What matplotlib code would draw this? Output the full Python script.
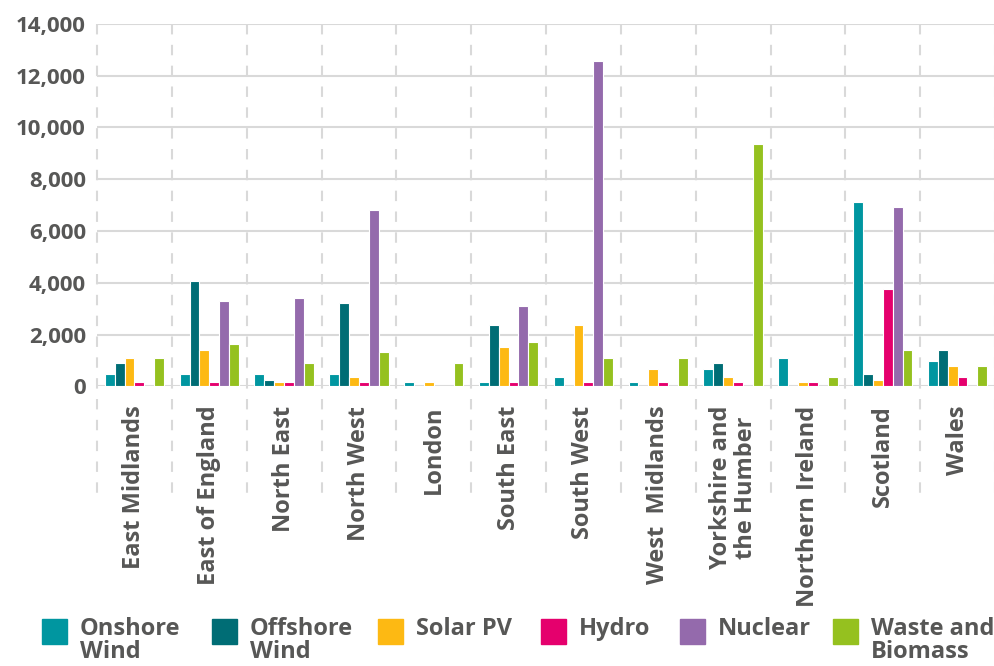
import numpy as np
import matplotlib.pyplot as plt
from matplotlib.patches import Rectangle
from matplotlib.ticker import FuncFormatter

plt.rcParams['font.family'] = ['Open Sans', 'DejaVu Sans']

regions = ["East Midlands", "East of England", "North East", "North West", "London",
           "South East", "South West", "West  Midlands", "Yorkshire and\nthe Humber",
           "Northern Ireland", "Scotland", "Wales"]

onshore = [460, 460, 460, 460, 150, 150, 350, 150, 670, 1090, 7120, 990]
offshore = [885, 4050, 245, 3200, 0, 2360, 0, 0, 885, 0, 460, 1410]
solar = [1090, 1410, 150, 350, 150, 1510, 2360, 670, 350, 150, 245, 770]
hydro = [150, 150, 150, 150, 0, 150, 150, 150, 150, 150, 3740, 350]
nuclear = [0, 3310, 3420, 6800, 0, 3100, 12580, 0, 0, 0, 6910, 0]
waste = [1090, 1615, 885, 1310, 885, 1730, 1090, 1090, 9380, 350, 1410, 770]

series = ["Onshore\nWind", "Offshore\nWind", "Solar PV", "Hydro", "Nuclear", "Waste and\nBiomass"]
colors = ["#0096A0", "#006D75", "#FDB913", "#E5006D", "#946AAC", "#95C11F"]
values = [onshore, offshore, solar, hydro, nuclear, waste]

text_col = "#575756"
grid_col = "#d9d9d9"

fig = plt.figure(figsize=(9.95, 6.66), dpi=100)
ax = fig.add_axes([0.0975, 0.42, 0.9025, 0.544])

x = np.arange(len(regions))
w = 0.132
for i, (vals, c) in enumerate(zip(values, colors)):
    ax.bar(x + (i - 2.5) * w, vals, width=w, color=c, edgecolor="white", linewidth=0.8, zorder=3)

ax.set_xlim(-0.5, len(regions) - 0.5)
ax.set_ylim(0, 14000)
ax.set_yticks(np.arange(0, 14001, 2000))
ax.yaxis.set_major_formatter(FuncFormatter(lambda v, p: f"{int(v):,}"))
ax.grid(axis="y", color=grid_col, linewidth=1.5, zorder=0)
for s in ax.spines.values():
    s.set_visible(False)
ax.tick_params(axis="y", length=0, labelsize=16, labelcolor=text_col, pad=8)
ax.tick_params(axis="x", length=0, pad=14)
for lab in ax.get_yticklabels():
    lab.set_fontweight("bold")

ax.set_xticks(x)
ax.set_xticklabels(regions, rotation=90, fontsize=17, fontweight="bold", color=text_col,
                   linespacing=1.05)

# dashed category separators running down into the label area
trans = ax.get_xaxis_transform()
for b in np.arange(-0.5, len(regions), 1.0):
    ax.plot([b, b], [1, -0.32], transform=trans, color=grid_col, linewidth=1.5,
            linestyle=(0, (5, 5)), clip_on=False, zorder=1)

# legend drawn by hand
leg_x = [42, 212, 378, 541, 680, 833]
for lx, lab, c in zip(leg_x, series, colors):
    fig.patches.append(Rectangle((lx / 995, 1 - 644 / 666), 25 / 995, 25 / 666,
                                 transform=fig.transFigure, color=c))
    fig.text((lx + 38) / 995, 1 - 617 / 666, lab, ha="left", va="top", fontsize=17,
             fontweight="bold", color=text_col, linespacing=0.95)

fig.savefig("out.png", dpi=100)
